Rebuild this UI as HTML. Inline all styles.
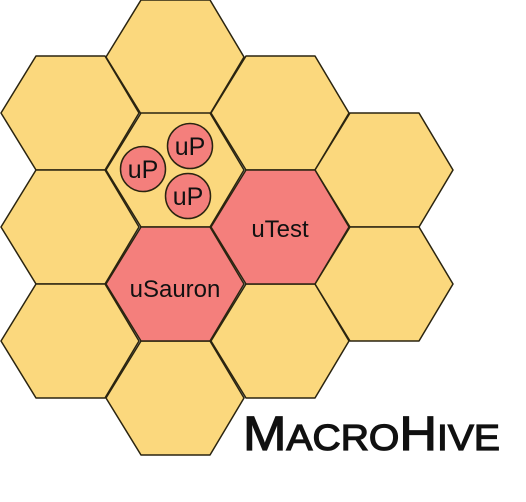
<!DOCTYPE html>
<html><head><style>html,body{margin:0;padding:0;background:#fff}</style></head>
<body>
<svg width="526" height="497" viewBox="0 0 526 497" xmlns="http://www.w3.org/2000/svg">
<defs>
<polygon id="h" points="-69,0 -34,-57 35,-57 69,0 35,57 -34,57"/>
</defs>
<g stroke="#2a2410" stroke-width="1.5" stroke-linejoin="round">
<use href="#h" x="70" y="113" fill="#fbd87d"/>
<use href="#h" x="70" y="227" fill="#fbd87d"/>
<use href="#h" x="70" y="341" fill="#fbd87d"/>
<use href="#h" x="175" y="57" fill="#fbd87d"/>
<use href="#h" x="175" y="170" fill="#fbd87d"/>
<use href="#h" x="175" y="398" fill="#fbd87d"/>
<use href="#h" x="280" y="113" fill="#fbd87d"/>
<use href="#h" x="280" y="341" fill="#fbd87d"/>
<use href="#h" x="384" y="170" fill="#fbd87d"/>
<use href="#h" x="384" y="284" fill="#fbd87d"/>
<use href="#h" x="175" y="284" fill="#f47f7c"/>
<use href="#h" x="280" y="227" fill="#f47f7c"/>
<circle cx="190" cy="146" r="22.5" fill="#f47f7c"/>
<circle cx="143" cy="169" r="22.5" fill="#f47f7c"/>
<circle cx="188" cy="196" r="22.5" fill="#f47f7c"/>
</g>
<g font-family="Liberation Sans, sans-serif" fill="#111" text-anchor="middle">
<text x="190" y="155" font-size="25">uP</text>
<text x="143" y="178" font-size="25">uP</text>
<text x="188" y="205" font-size="25">uP</text>
<text x="280" y="237" font-size="24">uTest</text>
<text x="175" y="297" font-size="24">uSauron</text>
</g>
<text x="243" y="450" font-family="Liberation Sans, sans-serif" fill="#111" stroke="#111" stroke-width="1.2" textLength="257" lengthAdjust="spacingAndGlyphs"><tspan font-size="48">M</tspan><tspan font-size="36">ACRO</tspan><tspan font-size="48">H</tspan><tspan font-size="36">IVE</tspan></text>
</svg>
</body></html>
